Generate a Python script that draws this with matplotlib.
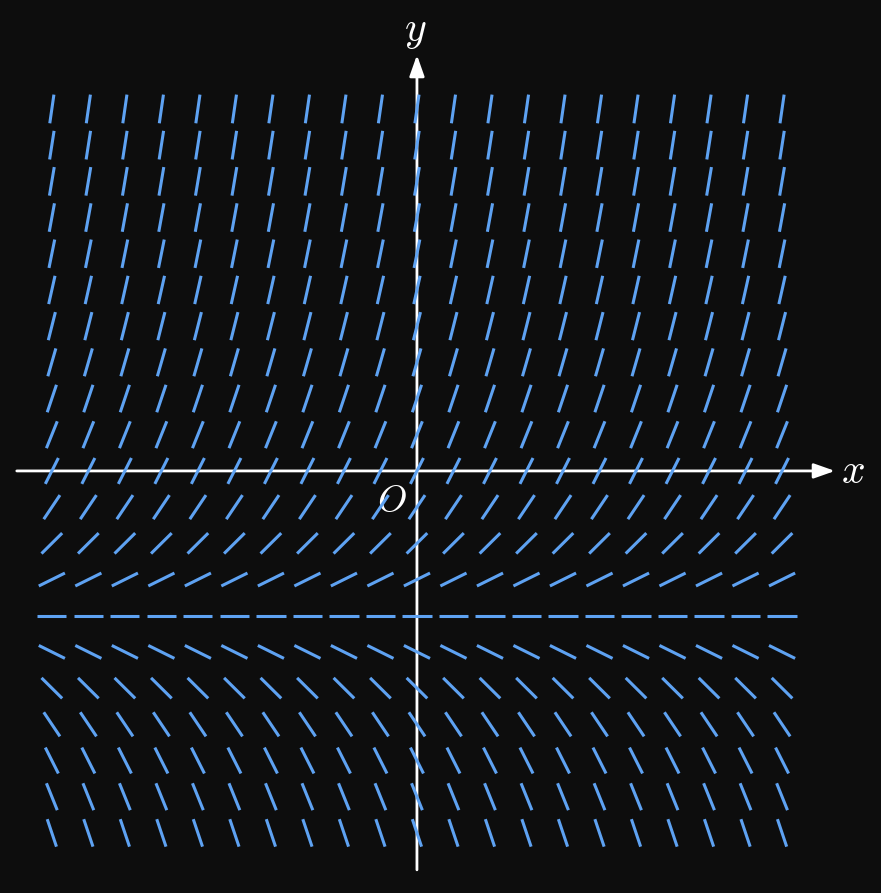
import matplotlib.pyplot as plt
import numpy as np
from matplotlib.collections import LineCollection

# grid of the slope field
x_vals = [-10, -9, -8, -7, -6, -5, -4, -3, -2, -1, 0, 1, 2, 3, 4, 5, 6, 7, 8, 9, 10]
y_vals = [10, 9, 8, 7, 6, 5, 4, 3, 2, 1, 0, -1, -2, -3, -4, -5, -6, -7, -8, -9, -10]
# slope read for each row (same along a row)
row_slopes = [7.0, 6.5, 6.0, 5.5, 5.0, 4.5, 4.0, 3.5, 3.0, 2.5, 2.0, 1.5, 1.0, 0.5,
              0.0, -0.5, -1.0, -1.5, -2.0, -2.5, -3.0]

BG = "#0d0d0d"
BLUE = "#5ea2f2"
SEG_LEN = 0.8

plt.rcParams["mathtext.fontset"] = "cm"

fig = plt.figure(figsize=(8.81, 8.93), dpi=100, facecolor=BG)
ax = fig.add_axes([0, 0, 1, 1])
ax.set_facecolor(BG)
ax.set_xlim(-11.42, 12.71)
ax.set_ylim(-11.66, 13.01)
ax.axis("off")

# axes with arrows
arrow = dict(arrowstyle="-|>,head_length=0.85,head_width=0.3", color="white", lw=2,
             mutation_scale=15, shrinkA=0, shrinkB=0)
ax.annotate("", xy=(11.45, 0), xytext=(-10.96, 0), arrowprops=arrow, zorder=2)
ax.annotate("", xy=(0, 11.49), xytext=(0, -11.02), arrowprops=arrow, zorder=2)
ax.text(11.95, 0, "$x$", color="white", fontsize=30, ha="center", va="center")
ax.text(-0.05, 12.18, "$y$", color="white", fontsize=30, ha="center", va="center")
ax.text(-0.68, -0.87, "$O$", color="white", fontsize=27, ha="center", va="center")

# slope segments
segs = []
for yv, m in zip(y_vals, row_slopes):
    d = np.array([1.0, m]) / np.hypot(1.0, m) * SEG_LEN / 2
    for xv in x_vals:
        segs.append([(xv - d[0], yv - d[1]), (xv + d[0], yv + d[1])])
ax.add_collection(LineCollection(segs, colors=BLUE, linewidths=2.2,
                                 capstyle="butt", zorder=3))

fig.savefig("out.png", dpi=100, facecolor=BG)
